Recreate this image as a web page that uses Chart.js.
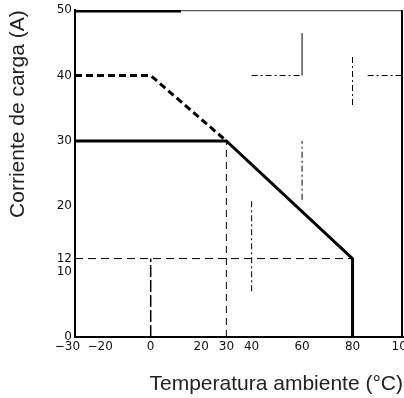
<!DOCTYPE html>
<html>
<head>
	<meta charset="utf-8">
	<title>Corriente de carga</title>
	<script src="https://cdn.jsdelivr.net/npm/chart.js@4.4.1/dist/chart.umd.min.js"></script>
	<style>
		body { margin: 0; background: #fff; }
		#wrap { width: 404px; height: 398px; position: relative; }
	</style>
</head>
<body>
	<div id="wrap"><canvas id="derating"></canvas></div>

	<script>
		// values
		const tempTicks = [-30, -20, 0, 20, 30, 40, 60, 80, 100];
		const currentTicks = [0, 10, 12, 20, 30, 40, 50];

		// derating curve (solid) and the dashed upper curve
		const solidTemp = [-30, 30, 80, 80];
		const solidCurrent = [30, 30, 12, 0];
		const dashedTemp = [-30, 0, 30];
		const dashedCurrent = [40, 40, 30];

		// thin guide lines
		const guide12Temp = [-30, 80];
		const guide12Current = [12, 12];
		const guide0Temp = [0, 0];
		const guide0Current = [0, 12];
		const guide30Temp = [30, 30];
		const guide30Current = [0, 30];

		// bits of the faint grid that survived in the scan
		const gridTemp = [40, 60, null, 86, 100, null, 80, 80, null, 40, 40, null, 60, 60];
		const gridCurrent = [40, 40, null, 40, 40, null, 35.5, 43, null, 7, 21, null, 21, 30];
		const stubTemp = [60, 60];
		const stubCurrent = [40, 46.5];
		// heavier piece of the top edge, left side
		const topEdgeTemp = [-30, 12];

		function pts(xs, ys) {
			return xs.map((x, i) => ({ x: x, y: ys[i] }));
		}

		function line(xs, ys, width, dash) {
			return {
				data: pts(xs, ys),
				showLine: true,
				borderColor: '#000',
				borderWidth: width,
				borderDash: dash,
				pointRadius: 0,
				fill: false,
				spanGaps: false
			};
		}

		function minusLabel(v) {
			if (v < 0) {
				// the -30 label sits a bit left of its tick in the scan
				return '\u2212' + Math.abs(v) + (v === -30 ? '\u2007\u2007' : '');
			}
			return '' + v;
		}

		// top and right edges of the frame
		const framePlugin = {
			id: 'frame',
			afterDatasetsDraw(chart) {
				const { ctx, chartArea: a } = chart;
				const xs = chart.scales.x;
				ctx.save();
				ctx.strokeStyle = '#333';
				ctx.lineWidth = 1;
				ctx.beginPath();
				ctx.moveTo(a.left, a.top + 0.5);
				ctx.lineTo(a.right, a.top + 0.5);
				ctx.stroke();
				ctx.strokeStyle = '#000';
				ctx.lineWidth = 2.5;
				ctx.beginPath();
				ctx.moveTo(xs.getPixelForValue(topEdgeTemp[0]), a.top + 1);
				ctx.lineTo(xs.getPixelForValue(topEdgeTemp[1]), a.top + 1);
				ctx.stroke();
				ctx.lineWidth = 2;
				ctx.beginPath();
				ctx.moveTo(a.right - 1, a.top);
				ctx.lineTo(a.right - 1, a.bottom);
				ctx.stroke();
				ctx.restore();
			}
		};

		const tickFont = { family: 'DejaVu Sans', size: 12 };
		const titleFont = { family: 'Liberation Sans', size: 21 };

		new Chart(document.getElementById('derating'), {
			type: 'scatter',
			data: {
				datasets: [
					line(solidTemp, solidCurrent, 3, []),
					line(dashedTemp, dashedCurrent, 3, [7, 4]),
					line(guide12Temp, guide12Current, 1, [8, 5]),
					line(guide0Temp, guide0Current, 1.5, [12, 3]),
					line(guide30Temp, guide30Current, 1, [7, 5]),
					line(gridTemp, gridCurrent, 1, [6, 3, 2, 3]),
					line(stubTemp, stubCurrent, 1, [])
				]
			},
			options: {
				responsive: true,
				maintainAspectRatio: false,
				animation: false,
				layout: { padding: { top: 10, right: 1, left: 0, bottom: 0 } },
				plugins: {
					legend: { display: false },
					tooltip: { enabled: false }
				},
				scales: {
					x: {
						type: 'linear',
						min: -30,
						max: 100,
						afterBuildTicks: (scale) => { scale.ticks = tempTicks.map(v => ({ value: v })); },
						afterFit: (scale) => {
							scale.height = 61;
							scale.paddingLeft = 0;
							scale.paddingRight = 0;
						},
						grid: { display: false, drawTicks: false },
						border: { display: true, color: '#000', width: 2 },
						ticks: {
							autoSkip: false,
							maxRotation: 0,
							minRotation: 0,
							padding: 3,
							color: '#111',
							font: tickFont,
							callback: minusLabel
						},
						title: {
							display: true,
							text: 'Temperatura ambiente (°C)',
							align: 'end',
							color: '#222',
							font: titleFont,
							padding: { top: 0, bottom: 1 }
						}
					},
					y: {
						type: 'linear',
						min: 0,
						max: 50,
						afterBuildTicks: (scale) => { scale.ticks = currentTicks.map(v => ({ value: v })); },
						afterFit: (scale) => { scale.width = 75; },
						grid: { display: false, drawTicks: false },
						border: { display: true, color: '#000', width: 2 },
						ticks: {
							autoSkip: false,
							padding: 3,
							color: '#111',
							font: tickFont,
							callback: minusLabel
						},
						title: {
							display: true,
							text: 'Corriente de carga (A)',
							align: 'end',
							color: '#222',
							font: titleFont,
							padding: { top: 6, bottom: 0 }
						}
					}
				}
			},
			plugins: [framePlugin]
		});
	</script>
</body>
</html>
